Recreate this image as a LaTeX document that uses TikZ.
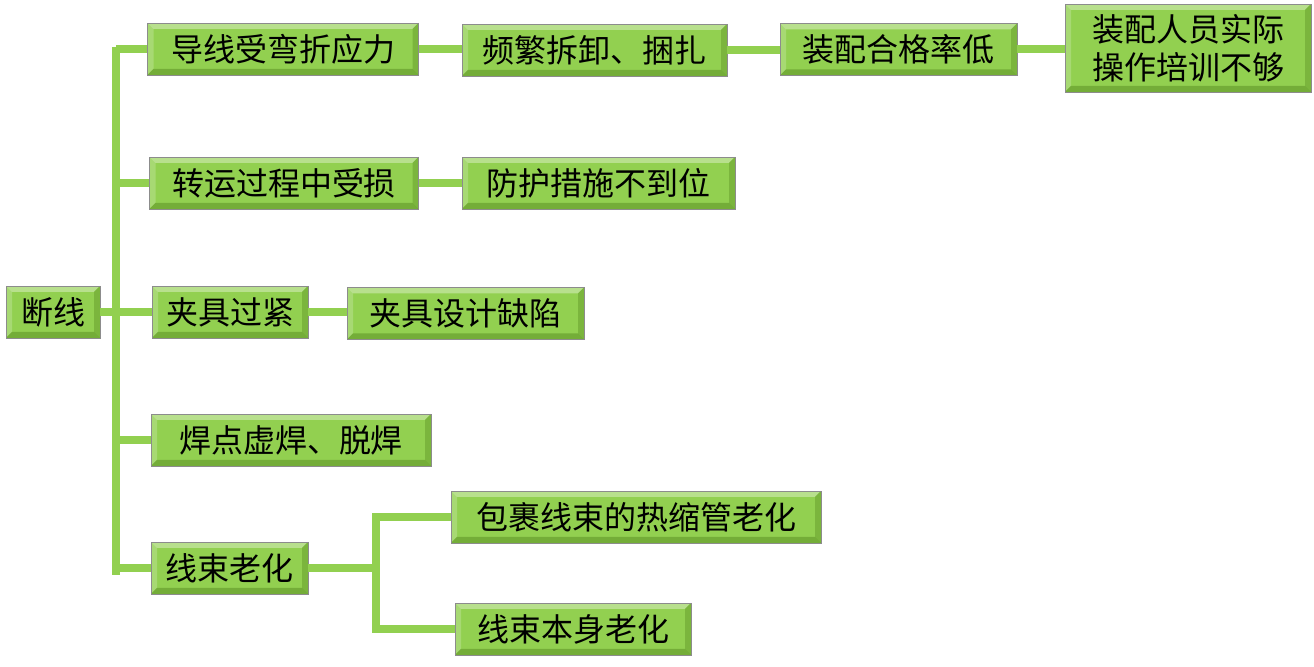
\documentclass[tikz,border=0pt]{standalone}
\usepackage{fontspec}
\newfontfamily\cjk{Noto Sans CJK SC}
\usepackage{xcolor}
\usepackage{tikz}
\usetikzlibrary{positioning}

\definecolor{leafgreen}{RGB}{146,208,80}
\definecolor{leafdark}{RGB}{96,150,40}

\begin{document}
\begin{tikzpicture}[
  x=0.5pt, y=-0.5pt,
  box/.style={draw=black!45, fill=leafgreen, inner sep=0pt, align=center,
              minimum height=26pt, font=\cjk\fontsize{16}{19}\selectfont,
              path picture={
                \coordinate (nw) at (path picture bounding box.north west);
                \coordinate (ne) at (path picture bounding box.north east);
                \coordinate (sw) at (path picture bounding box.south west);
                \coordinate (se) at (path picture bounding box.south east);
                \fill[white, opacity=.35] (nw) -- (ne) -- ([shift={(-3pt,-3pt)}]ne)
                  -- ([shift={(3pt,-3pt)}]nw) -- cycle;
                \fill[white, opacity=.2] (nw) -- ([shift={(3pt,-3pt)}]nw)
                  -- ([shift={(3pt,3pt)}]sw) -- (sw) -- cycle;
                \fill[leafdark, opacity=.6] (sw) -- (se) -- ([shift={(-3pt,3pt)}]se)
                  -- ([shift={(3pt,3pt)}]sw) -- cycle;
                \fill[leafdark, opacity=.45] (ne) -- (se) -- ([shift={(-3pt,3pt)}]se)
                  -- ([shift={(-3pt,-3pt)}]ne) -- cycle;
              }},
  link/.style={draw=leafgreen, line width=4pt}
]
  \useasboundingbox (0,0) rectangle (1314,667);

  % root and first level
  \node[box, minimum width=47pt]    (root)    at (53,312)   {断线};
  \node[box, minimum width=135.5pt] (bend)    at (283,49)   {导线受弯折应力};
  \node[box, minimum width=134.5pt] (ship)    at (284,183)  {转运过程中受损};
  \node[box, minimum width=78pt]    (clamp)   at (230,312)  {夹具过紧};
  \node[box, minimum width=140pt]   (weld)    at (291,440)  {焊点虚焊、脱焊};
  \node[box, minimum width=78.5pt]  (aging)   at (229.5,568) {线束老化};

  % deeper causes
  \node[box, minimum width=132.5pt] (detach)  at (594.5,50)  {频繁拆卸、捆扎};
  \node[box, minimum width=118.5pt] (yield)   at (898.5,49.5) {装配合格率低};
  \node[box, minimum width=123pt, minimum height=44pt]
                                    (train)   at (1188,48)  {装配人员实际\\操作培训不够};
  \node[box, minimum width=136.5pt] (protect) at (598.5,183) {防护措施不到位};
  \node[box, minimum width=118.5pt] (design)  at (465.5,313.5) {夹具设计缺陷};
  \node[box, minimum width=185pt]   (sleeve)  at (636,517)  {包裹线束的热缩管老化};
  \node[box, minimum width=118pt]   (self)    at (573,629)  {线束本身老化};

  % trunk
  \coordinate (top) at (116,47);
  \coordinate (bot) at (116,575);
  \coordinate (fork) at (376,568);
  \draw[link] (top) -- (bot);
  \draw[link] (top |- bend.west) -- (bend.west);
  \draw[link] (top |- ship.west) -- (ship.west);
  \draw[link] (root.east) -- (clamp.west);
  \draw[link] (top |- weld.west) -- (weld.west);
  \draw[link] (top |- aging.west) -- (aging.west);

  % chains
  \draw[link] (bend.east) -- (bend.east -| detach.west);
  \draw[link] (detach.east) -- (detach.east -| yield.west);
  \draw[link] (yield.east) -- (yield.east -| train.west);
  \draw[link] (ship) -- (protect);
  \draw[link] (clamp.east) -- (clamp.east -| design.west);
  \draw[link] (aging.east) -- (fork);
  \draw[link] (sleeve.west) -| (fork) |- (self.west);
\end{tikzpicture}
\end{document}
